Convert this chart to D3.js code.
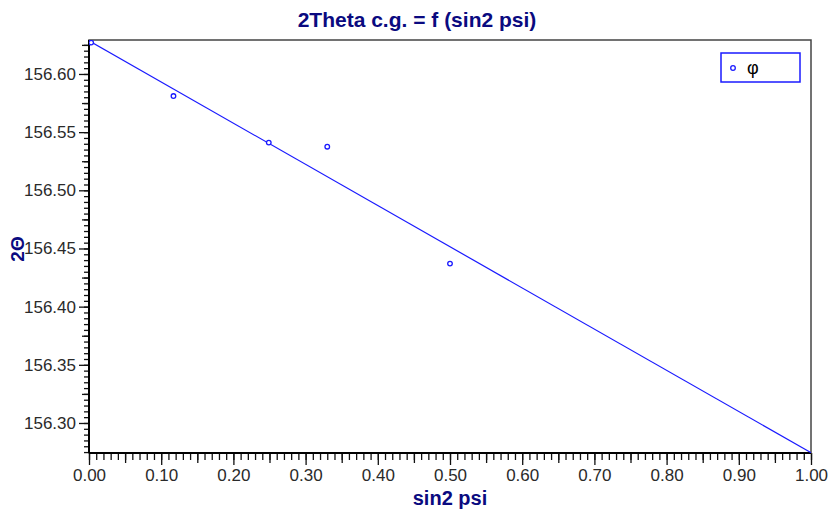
<!DOCTYPE html>
<html>
<head>
<meta charset="utf-8">
<script src="https://cdn.jsdelivr.net/npm/d3@7"></script>
<style>
  body { margin: 0; background: #fff; }
  svg { display: block; font-family: "Liberation Sans", Arial, sans-serif; }
</style>
</head>
<body>
<svg id="chart" width="830" height="512"></svg>
<script>
// measured points: sin2 psi vs 2theta centre of gravity
var sin2psi = [0.003, 0.117, 0.249, 0.330, 0.500];
var twoTheta = [156.627, 156.581, 156.541, 156.5375, 156.437];
// fitted line, read at both ends of the x range
var fitX = [0, 1];
var fitY = [156.6285, 156.2745];
var xTicks = [0, 0.1, 0.2, 0.3, 0.4, 0.5, 0.6, 0.7, 0.8, 0.9, 1.0];
var yTicks = [156.30, 156.35, 156.40, 156.45, 156.50, 156.55, 156.60];

var margin = {left: 89, right: 19, top: 40, bottom: 59},
    width = 830 - margin.left - margin.right,
    height = 512 - margin.top - margin.bottom;

var navy = "#0a0a80", blue = "#1a1aff";

var svg = d3.select("#chart");
var g = svg.append("g").attr("transform", "translate(" + margin.left + "," + margin.top + ")");

var x = d3.scaleLinear().domain([0, 1]).range([0, width]);
var y = d3.scaleLinear().domain([156.2742, 156.6292]).range([height, 0]);

// minor ticks (0.01 on x, 0.005 on y), mid ticks, then majors
var xMinor = d3.range(0, 1.0001, 0.01);
var yMinor = d3.range(156.275, 156.629, 0.005);

g.append("g").attr("transform", "translate(0," + height + ")")
    .call(d3.axisBottom(x).tickValues(xMinor).tickSize(7).tickFormat(""));
g.append("g").attr("transform", "translate(0," + height + ")")
    .call(d3.axisBottom(x).tickValues(xTicks.map(function(d) { return d + 0.05; }).filter(function(d) { return d < 1; })).tickSize(10).tickFormat(""));
g.append("g").attr("class", "xmaj").attr("transform", "translate(0," + height + ")")
    .call(d3.axisBottom(x).tickValues(xTicks).tickSize(12).tickPadding(4).tickFormat(d3.format(".2f")));

g.append("g").call(d3.axisLeft(y).tickValues(yMinor).tickSize(5).tickFormat(""));
g.append("g").call(d3.axisLeft(y).tickValues(yTicks.map(function(d) { return d + 0.025; })).tickSize(7).tickFormat(""));
g.append("g").attr("class", "ymaj")
    .call(d3.axisLeft(y).tickValues(yTicks).tickSize(10).tickPadding(3).tickFormat(d3.format(".2f")));

g.selectAll(".domain").remove();
g.selectAll(".tick line").attr("stroke", "#111").attr("stroke-width", 1.3);
g.selectAll(".tick text").attr("fill", "#2a2a2a").style("font-size", "17px")
    .style("font-family", "'Liberation Sans', Arial, sans-serif");

// frame
g.append("rect").attr("width", width).attr("height", height)
    .attr("fill", "none").attr("stroke", "#444").attr("stroke-width", 1.5);
g.append("line").attr("x1", 0).attr("x2", 0).attr("y1", 0).attr("y2", height)
    .attr("stroke", "#000").attr("stroke-width", 2);
g.append("line").attr("x1", 0).attr("x2", width).attr("y1", height).attr("y2", height)
    .attr("stroke", "#000").attr("stroke-width", 2);

g.append("clipPath").attr("id", "clip").append("rect")
    .attr("width", width).attr("height", height);

var plot = g.append("g").attr("clip-path", "url(#clip)");

plot.append("path")
    .datum(fitX.map(function(d, i) { return [d, fitY[i]]; }))
    .attr("fill", "none").attr("stroke", blue).attr("stroke-width", 1.2)
    .attr("d", d3.line().x(function(d) { return x(d[0]); }).y(function(d) { return y(d[1]); }));

plot.selectAll("circle.pt")
    .data(sin2psi.map(function(d, i) { return [d, twoTheta[i]]; }))
    .enter().append("circle").attr("class", "pt")
    .attr("cx", function(d) { return x(d[0]); })
    .attr("cy", function(d) { return y(d[1]); })
    .attr("r", 2.3)
    .attr("fill", "#fff").attr("stroke", blue).attr("stroke-width", 1.3);

// legend
var lg = g.append("g").attr("transform", "translate(" + (width - 90) + ",13)");
lg.append("rect").attr("width", 79).attr("height", 29)
    .attr("fill", "#fff").attr("stroke", blue).attr("stroke-width", 1.5);
lg.append("circle").attr("cx", 12).attr("cy", 15).attr("r", 2.3)
    .attr("fill", "#fff").attr("stroke", blue).attr("stroke-width", 1.3);
lg.append("text").attr("x", 26).attr("y", 21).text("φ")
    .style("font-size", "18px").attr("fill", "#000");

// titles
svg.append("text").attr("x", 417).attr("y", 27).attr("text-anchor", "middle")
    .style("font-size", "21px").style("font-weight", "bold").attr("fill", navy)
    .text("2Theta c.g. = f (sin2 psi)");
svg.append("text").attr("x", margin.left + width / 2).attr("y", 505).attr("text-anchor", "middle")
    .style("font-size", "20px").style("font-weight", "bold").attr("fill", navy)
    .text("sin2 psi");
svg.append("text").attr("transform", "translate(24,249)rotate(-90)").attr("text-anchor", "middle")
    .style("font-size", "19px").style("font-weight", "bold").attr("fill", navy)
    .text("2Θ");
</script>
</body>
</html>
